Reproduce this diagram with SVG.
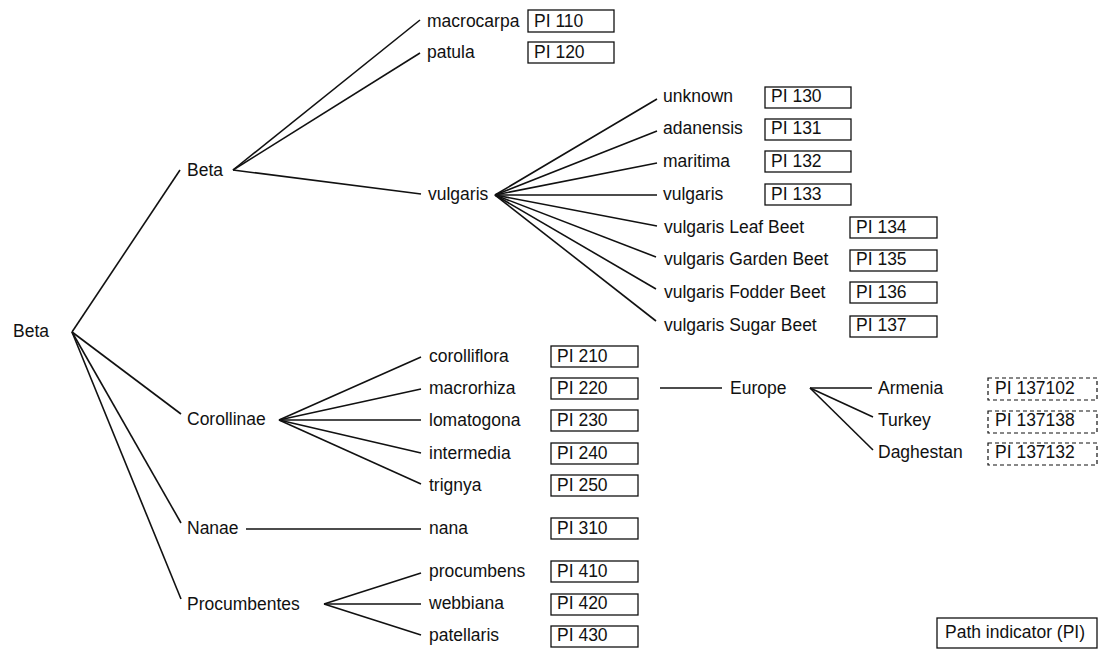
<svg xmlns="http://www.w3.org/2000/svg" width="1102" height="654" viewBox="0 0 1102 654">
<style>
text{font-family:"Liberation Sans",Arial,sans-serif;font-size:17.5px;fill:#111}
.c line{stroke:#111;stroke-width:1.6;fill:none}
.b{fill:#fff;stroke:#111;stroke-width:1.3}
.d{fill:#fff;stroke:#111;stroke-width:1.2;stroke-dasharray:4 3}
</style>
<rect width="1102" height="654" fill="#fff"/>
<g class="c" id="connectors">
<line x1="72" y1="332" x2="180" y2="170"/>
<line x1="72" y1="332" x2="181" y2="414"/>
<line x1="72" y1="332" x2="181" y2="523"/>
<line x1="72" y1="332" x2="181" y2="599"/>
<line x1="233" y1="170" x2="420" y2="20"/>
<line x1="233" y1="170" x2="420" y2="53"/>
<line x1="233" y1="170" x2="421" y2="194"/>
<line x1="495" y1="195" x2="657" y2="99"/>
<line x1="495" y1="195" x2="657" y2="131"/>
<line x1="495" y1="195" x2="657" y2="163"/>
<line x1="495" y1="195" x2="657" y2="195"/>
<line x1="495" y1="195" x2="657" y2="226"/>
<line x1="495" y1="195" x2="656" y2="257"/>
<line x1="495" y1="195" x2="656" y2="289"/>
<line x1="495" y1="195" x2="656" y2="321"/>
<line x1="279" y1="420" x2="421" y2="357"/>
<line x1="279" y1="420" x2="421" y2="389"/>
<line x1="279" y1="420" x2="421" y2="420"/>
<line x1="279" y1="420" x2="421" y2="453"/>
<line x1="279" y1="420" x2="421" y2="484"/>
<line x1="246" y1="529" x2="421" y2="529"/>
<line x1="324" y1="604" x2="421" y2="573"/>
<line x1="324" y1="604" x2="421" y2="604"/>
<line x1="324" y1="604" x2="421" y2="635"/>
<line x1="660" y1="388" x2="722" y2="388"/>
<line x1="810" y1="388" x2="872" y2="388"/>
<line x1="810" y1="388" x2="873" y2="417"/>
<line x1="810" y1="388" x2="873" y2="450"/>
</g>
<g id="root"><text x="13" y="337">Beta</text></g>
<g id="beta"><text x="187" y="176">Beta</text></g>
<g id="corollinae"><text x="187" y="425">Corollinae</text></g>
<g id="nanae"><text x="187" y="534">Nanae</text></g>
<g id="procumbentes"><text x="187" y="610">Procumbentes</text></g>
<g id="macrocarpa"><text x="427" y="27">macrocarpa</text><rect class="b" x="528" y="10" width="86" height="22"/><text x="534" y="27">PI 110</text></g>
<g id="patula"><text x="427" y="58">patula</text><rect class="b" x="528" y="42" width="86" height="21"/><text x="534" y="58">PI 120</text></g>
<g id="vulgaris"><text x="428" y="200">vulgaris</text></g>
<g id="unknown"><text x="663" y="102">unknown</text><rect class="b" x="765" y="87" width="86" height="21"/><text x="771" y="102">PI 130</text></g>
<g id="adanensis"><text x="663" y="134">adanensis</text><rect class="b" x="765" y="119" width="86" height="21"/><text x="771" y="134">PI 131</text></g>
<g id="maritima"><text x="663" y="167">maritima</text><rect class="b" x="765" y="151" width="86" height="21"/><text x="771" y="167">PI 132</text></g>
<g id="vulgaris2"><text x="663" y="200">vulgaris</text><rect class="b" x="765" y="184" width="86" height="21"/><text x="771" y="200">PI 133</text></g>
<g id="leafbeet"><text x="664" y="233">vulgaris Leaf Beet</text><rect class="b" x="850" y="217" width="87" height="21"/><text x="856" y="233">PI 134</text></g>
<g id="gardenbeet"><text x="664" y="265">vulgaris Garden Beet</text><rect class="b" x="850" y="250" width="87" height="21"/><text x="856" y="265">PI 135</text></g>
<g id="fodderbeet"><text x="664" y="298">vulgaris Fodder Beet</text><rect class="b" x="850" y="282" width="87" height="21"/><text x="856" y="298">PI 136</text></g>
<g id="sugarbeet"><text x="664" y="331">vulgaris Sugar Beet</text><rect class="b" x="850" y="316" width="87" height="21"/><text x="856" y="331">PI 137</text></g>
<g id="corolliflora"><text x="429" y="362">corolliflora</text><rect class="b" x="551" y="346" width="87" height="21"/><text x="557" y="362">PI 210</text></g>
<g id="macrorhiza"><text x="429" y="394">macrorhiza</text><rect class="b" x="551" y="378" width="87" height="21"/><text x="557" y="394">PI 220</text></g>
<g id="lomatogona"><text x="429" y="426">lomatogona</text><rect class="b" x="551" y="410" width="87" height="21"/><text x="557" y="426">PI 230</text></g>
<g id="intermedia"><text x="429" y="459">intermedia</text><rect class="b" x="551" y="443" width="87" height="21"/><text x="557" y="459">PI 240</text></g>
<g id="trignya"><text x="429" y="491">trignya</text><rect class="b" x="551" y="475" width="87" height="21"/><text x="557" y="491">PI 250</text></g>
<g id="nana"><text x="429" y="534">nana</text><rect class="b" x="551" y="518" width="87" height="21"/><text x="557" y="534">PI 310</text></g>
<g id="procumbens"><text x="429" y="577">procumbens</text><rect class="b" x="551" y="561" width="87" height="21"/><text x="557" y="577">PI 410</text></g>
<g id="webbiana"><text x="429" y="609">webbiana</text><rect class="b" x="551" y="594" width="87" height="21"/><text x="557" y="609">PI 420</text></g>
<g id="patellaris"><text x="429" y="641">patellaris</text><rect class="b" x="551" y="626" width="87" height="21"/><text x="557" y="641">PI 430</text></g>
<g id="europe"><text x="730" y="394">Europe</text></g>
<g id="armenia"><text x="878" y="394">Armenia</text><rect class="d" x="988" y="378" width="109" height="22"/><text x="995" y="394">PI 137102</text></g>
<g id="turkey"><text x="878" y="426">Turkey</text><rect class="d" x="988" y="411" width="109" height="22"/><text x="995" y="426">PI 137138</text></g>
<g id="daghestan"><text x="878" y="458">Daghestan</text><rect class="d" x="988" y="443" width="109" height="22"/><text x="995" y="458">PI 137132</text></g>
<g id="legend"><rect class="b" x="937" y="618" width="160" height="30"/><text x="945" y="638">Path indicator (PI)</text></g>
</svg>
